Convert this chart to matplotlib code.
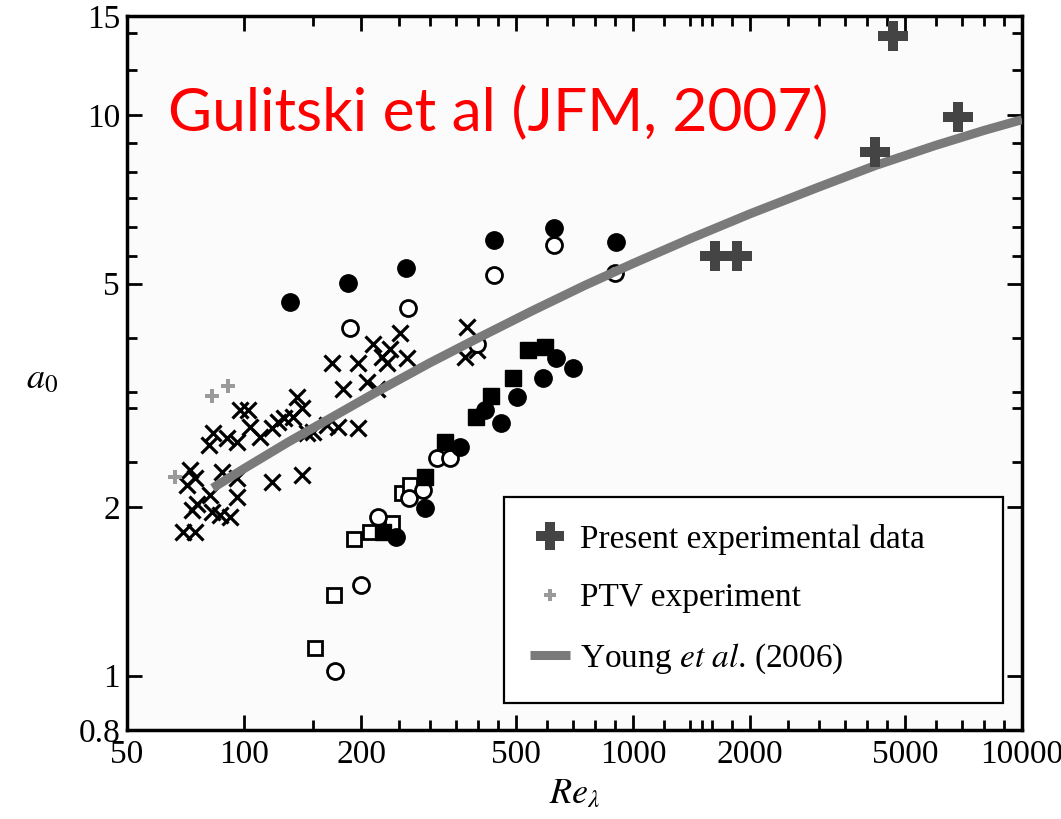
import matplotlib
matplotlib.use("Agg")
import matplotlib.pyplot as plt
from matplotlib.lines import Line2D
from matplotlib.ticker import FixedLocator, NullFormatter, FixedFormatter

plt.rcParams['font.family'] = ['Liberation Serif', 'DejaVu Serif']
plt.rcParams['mathtext.fontset'] = 'stix'

# ---------------- data (Re_lambda, a0) ----------------
cross_x = [69.7, 74.8, 73.5, 75.7, 82.7, 86.7, 92.0, 81.7, 95.9, 72.6, 74.8, 71.3,
           87.8, 95.9, 118, 141, 83.2, 81.2, 90.4, 95.9, 97.6, 102.4, 103.5, 109.9,
           118, 122.2, 126.6, 133.6, 136.8, 141, 145, 150.4, 163.4, 174.4, 196.3,
           168.3, 196.3, 179.6, 207, 219.7, 214.4, 237.3, 226.2, 233, 262.4, 251.6,
           369.8, 397, 374]
cross_y = [1.80, 1.80, 1.97, 2.02, 1.96, 1.93, 1.92, 2.10, 2.08, 2.33, 2.25, 2.19,
           2.31, 2.25, 2.21, 2.28, 2.71, 2.58, 2.65, 2.61, 2.97, 2.97, 2.77, 2.66,
           2.76, 2.83, 2.88, 2.89, 3.14, 3.00, 2.71, 2.72, 2.80, 2.77, 2.76,
           3.61, 3.61, 3.25, 3.34, 3.25, 3.91, 3.83, 3.70, 3.61, 3.68, 4.09,
           3.70, 3.80, 4.18]

fcirc_x = [131, 185, 261, 439, 626, 904, 359, 416, 457, 503, 586, 634, 701, 292, 246]
fcirc_y = [4.63, 5.02, 5.32, 5.99, 6.27, 5.92, 2.56, 2.97, 2.82, 3.14, 3.39, 3.68, 3.53, 1.99, 1.77]

ocirc_x = [187, 264, 439, 626, 899, 397, 313, 338, 265.5, 288, 221, 200, 171]
ocirc_y = [4.16, 4.52, 5.17, 5.85, 5.23, 3.91, 2.44, 2.44, 2.07, 2.14, 1.92, 1.45, 1.02]

fsq_x = [537, 594, 491, 431, 395, 329, 292, 228]
fsq_y = [3.80, 3.85, 3.39, 3.15, 2.89, 2.61, 2.26, 1.80]

osq_x = [255, 267, 192, 211, 240, 170, 152]
osq_y = [2.12, 2.19, 1.75, 1.80, 1.87, 1.39, 1.12]

present_x = [4660, 6840, 4190, 1624, 1850]
present_y = [13.8, 9.9, 8.6, 5.61, 5.61]

ptv_x = [66.4, 82.7, 90.9]
ptv_y = [2.26, 3.15, 3.28]

young_x = [83, 100, 130, 170, 220, 300, 400, 550, 750, 1000, 1400, 2000, 3000, 4200,
           6000, 8000, 10000]
young_y = [2.16, 2.34, 2.61, 2.90, 3.21, 3.61, 4.00, 4.47, 4.96, 5.43, 6.01, 6.66, 7.43,
           8.12, 8.82, 9.38, 9.80]

x_major = [50, 100, 200, 500, 1000, 2000, 5000, 10000]
x_major_labels = ['50', '100', '200', '500', '1000', '2000', '5000', '10000']
x_minor = [150, 250, 300, 350, 400, 450, 600, 700, 800, 900,
           1200, 1400, 1500, 1600, 1800, 2500, 3000, 3500, 4000, 4500,
           6000, 7000, 8000, 9000]
y_major = [0.8, 1, 2, 5, 10, 15]
y_major_labels = ['0.8', '1', '2', '5', '10', '15']
y_minor = [2.4, 3.0, 3.2, 4.0, 5.6, 6.3, 7.1, 7.9, 8.9, 12, 14]

# ---------------- figure ----------------
W, H = 1061, 819
fig = plt.figure(figsize=(W / 100, H / 100), dpi=100)
ax = fig.add_axes([127 / W, 1 - 730 / H, (1022 - 127) / W, (730 - 16) / H])
ax.set_facecolor('#fbfbfb')
ax.set_xscale('log')
ax.set_yscale('log')
ax.set_xlim(50, 10000)
ax.set_ylim(0.8, 15)

ax.plot(cross_x, cross_y, linestyle='none', marker='x', ms=12, mew=2.3, color='black', zorder=2)
ax.plot(osq_x, osq_y, linestyle='none', marker='s', ms=10.5, mew=2.0, mfc='white', mec='black', zorder=2)
ax.plot(ocirc_x, ocirc_y, linestyle='none', marker='o', ms=11.5, mew=2.0, mfc='white', mec='black', zorder=2)
ax.plot(fsq_x, fsq_y, linestyle='none', marker='s', ms=11.5, color='black', zorder=2)
ax.plot(fcirc_x, fcirc_y, linestyle='none', marker='o', ms=12.5, color='black', zorder=2)
ax.plot(ptv_x, ptv_y, linestyle='none', marker='P', ms=10, color='#9a9a9a', mew=0, zorder=3)
ax.plot(young_x, young_y, color='#7a7a7a', lw=6.5, solid_capstyle='butt', zorder=3)
ax.plot(present_x, present_y, linestyle='none', marker='P', ms=21, color='#444444', mew=0, zorder=4)

# ticks
ax.xaxis.set_major_locator(FixedLocator(x_major))
ax.xaxis.set_major_formatter(FixedFormatter(x_major_labels))
ax.xaxis.set_minor_locator(FixedLocator(x_minor))
ax.xaxis.set_minor_formatter(NullFormatter())
ax.yaxis.set_major_locator(FixedLocator(y_major))
ax.yaxis.set_major_formatter(FixedFormatter(y_major_labels))
ax.yaxis.set_minor_locator(FixedLocator(y_minor))
ax.yaxis.set_minor_formatter(NullFormatter())
ax.tick_params(which='both', direction='in', top=True, right=True, width=2, colors='black')
ax.tick_params(which='major', length=11, labelsize=24)
ax.tick_params(which='minor', length=7)
ax.tick_params(axis='x', which='major', pad=7)
ax.tick_params(axis='y', which='major', pad=5)
for sp in ax.spines.values():
    sp.set_linewidth(2.5)
    sp.set_color('black')

ax.set_xlabel(r'$Re_\lambda$', fontsize=26, labelpad=6)
ax.set_ylabel(r'$a_0$', fontsize=26, rotation=0, va='center', ha='center')
ax.yaxis.set_label_coords(-0.095, 0.49)

# legend
handles = [
    Line2D([], [], linestyle='none', marker='P', ms=20, color='#444444', mew=0),
    Line2D([], [], linestyle='none', marker='P', ms=9, color='#9a9a9a', mew=0),
    Line2D([], [], color='#7a7a7a', lw=6.5, solid_capstyle='butt'),
]
labels = ['Present experimental data', 'PTV experiment', r'Young $\mathit{et\ al}$. (2006)']
leg = ax.legend(handles, labels, loc='lower left', bbox_to_anchor=(0.421, 0.038, 0.558, 0.2885),
                mode='expand', fontsize=24, frameon=True, fancybox=False, framealpha=1,
                edgecolor='black', handlelength=1.2, handletextpad=0.3, labelspacing=0.85,
                borderpad=0.8, borderaxespad=0)
leg.get_frame().set_linewidth(1.6)

fig.text(168 / W, 1 - 113 / H, 'Gulitski et al (JFM, 2007)', color='red', fontsize=43.5,
         family=['Lato', 'DejaVu Sans'], va='center', ha='left')

fig.savefig('out.png', dpi=100, facecolor='white')
